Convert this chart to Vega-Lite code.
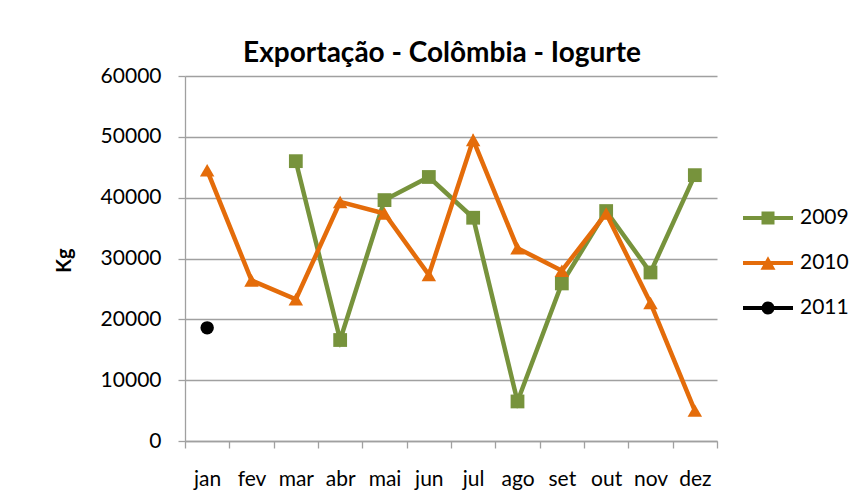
{
  "$schema": "https://vega.github.io/schema/vega-lite/v6.json",
  "autosize": "none",
  "width": 532,
  "height": 365,
  "padding": {"left": 185, "top": 76, "right": 149, "bottom": 63},
  "background": "white",
  "title": {
    "text": "Exportação - Colômbia - Iogurte",
    "font": "Lato",
    "fontSize": 28,
    "fontWeight": "bold",
    "color": "black",
    "anchor": "middle",
    "frame": "group",
    "baseline": "alphabetic",
    "offset": -25,
    "dx": -9
  },
  "data": {
    "values": [
      {"mes": "mar", "ano": "2009", "kg": 46000},
      {"mes": "abr", "ano": "2009", "kg": 16600},
      {"mes": "mai", "ano": "2009", "kg": 39600},
      {"mes": "jun", "ano": "2009", "kg": 43400},
      {"mes": "jul", "ano": "2009", "kg": 36700},
      {"mes": "ago", "ano": "2009", "kg": 6500},
      {"mes": "set", "ano": "2009", "kg": 25900},
      {"mes": "out", "ano": "2009", "kg": 37800},
      {"mes": "nov", "ano": "2009", "kg": 27700},
      {"mes": "dez", "ano": "2009", "kg": 43700},
      {"mes": "jan", "ano": "2010", "kg": 44500},
      {"mes": "fev", "ano": "2010", "kg": 26400},
      {"mes": "mar", "ano": "2010", "kg": 23300},
      {"mes": "abr", "ano": "2010", "kg": 39300},
      {"mes": "mai", "ano": "2010", "kg": 37400},
      {"mes": "jun", "ano": "2010", "kg": 27300},
      {"mes": "jul", "ano": "2010", "kg": 49500},
      {"mes": "ago", "ano": "2010", "kg": 31700},
      {"mes": "set", "ano": "2010", "kg": 28000},
      {"mes": "out", "ano": "2010", "kg": 37400},
      {"mes": "nov", "ano": "2010", "kg": 22700},
      {"mes": "dez", "ano": "2010", "kg": 5000},
      {"mes": "jan", "ano": "2011", "kg": 18600}
    ]
  },
  "encoding": {
    "x": {
      "field": "mes",
      "type": "nominal",
      "sort": ["jan", "fev", "mar", "abr", "mai", "jun", "jul", "ago", "set", "out", "nov", "dez"],
      "scale": {"paddingInner": 0, "paddingOuter": 0},
      "axis": {
        "title": null,
        "labelAngle": 0,
        "labelFont": "Lato",
        "labelFontSize": 21,
        "labelColor": "black",
        "labelPadding": 20,
        "tickBand": "extent",
        "tickSize": 7,
        "tickColor": "#A0A0A0",
        "domainColor": "#A0A0A0",
        "domainWidth": 1.3,
        "tickWidth": 1.3,
        "grid": false
      }
    },
    "y": {
      "field": "kg",
      "type": "quantitative",
      "scale": {"domain": [0, 60000], "nice": false},
      "axis": {
        "title": "Kg",
        "titleFont": "Lato",
        "titleFontSize": 20,
        "titleFontWeight": "bold",
        "titleColor": "black",
        "titleAngle": -90,
        "titleX": -121,
        "titleY": 184,
        "titleAlign": "center",
        "titleBaseline": "middle",
        "values": [0, 10000, 20000, 30000, 40000, 50000, 60000],
        "format": "d",
        "labelFont": "Lato",
        "labelFontSize": 21,
        "labelColor": "black",
        "labelPadding": 17,
        "tickSize": 7,
        "tickColor": "#A0A0A0",
        "domainColor": "#A0A0A0",
        "domainWidth": 1.3,
        "tickWidth": 1.3,
        "grid": true,
        "gridColor": "#A0A0A0",
        "gridWidth": 1.3
      }
    },
    "color": {
      "field": "ano",
      "type": "nominal",
      "scale": {"domain": ["2009", "2010", "2011"], "range": ["#77933C", "#E46C0A", "#000000"]},
      "legend": {
        "title": null,
        "orient": "none",
        "legendX": 558,
        "legendY": 117,
        "padding": 0,
        "symbolSize": 2500,
        "labelFont": "Lato",
        "labelFontSize": 21,
        "labelColor": "black",
        "labelOffset": 7,
        "rowPadding": 10,
        "encode": {
          "symbols": {
            "update": {
              "stroke": {"value": "transparent"},
              "strokeWidth": {"value": 0},
              "opacity": {"value": 1}
            }
          }
        }
      }
    }
  },
  "layer": [
    {
      "mark": {"type": "point", "filled": true, "size": 0, "opacity": 1},
      "encoding": {
        "shape": {
          "field": "ano",
          "type": "nominal",
          "scale": {
            "domain": ["2009", "2010", "2011"],
            "range": [
              "M-1,-0.08H1V0.08H-1Z M-0.26,-0.26H0.26V0.26H-0.26Z",
              "M-1,-0.08H1V0.08H-1Z M0,-0.27L0.3,0.27H-0.3Z",
              "M-1,-0.08H1V0.08H-1Z M-0.26,0A0.26,0.26 0 1,1 0.26,0A0.26,0.26 0 1,1 -0.26,0Z"
            ]
          }
        }
      }
    },
    {
      "mark": {"type": "line", "strokeWidth": 4.5, "strokeJoin": "miter"}
    },
    {
      "transform": [{"filter": "datum.ano === '2009'"}],
      "mark": {"type": "point", "shape": "square", "filled": true, "opacity": 1, "size": 190}
    },
    {
      "transform": [{"filter": "datum.ano === '2010'"}],
      "mark": {"type": "point", "shape": "triangle-up", "filled": true, "opacity": 1, "size": 210}
    },
    {
      "transform": [{"filter": "datum.ano === '2011'"}],
      "mark": {"type": "point", "shape": "circle", "filled": true, "opacity": 1, "size": 180}
    }
  ],
  "config": {
    "view": {"stroke": null}
  }
}
